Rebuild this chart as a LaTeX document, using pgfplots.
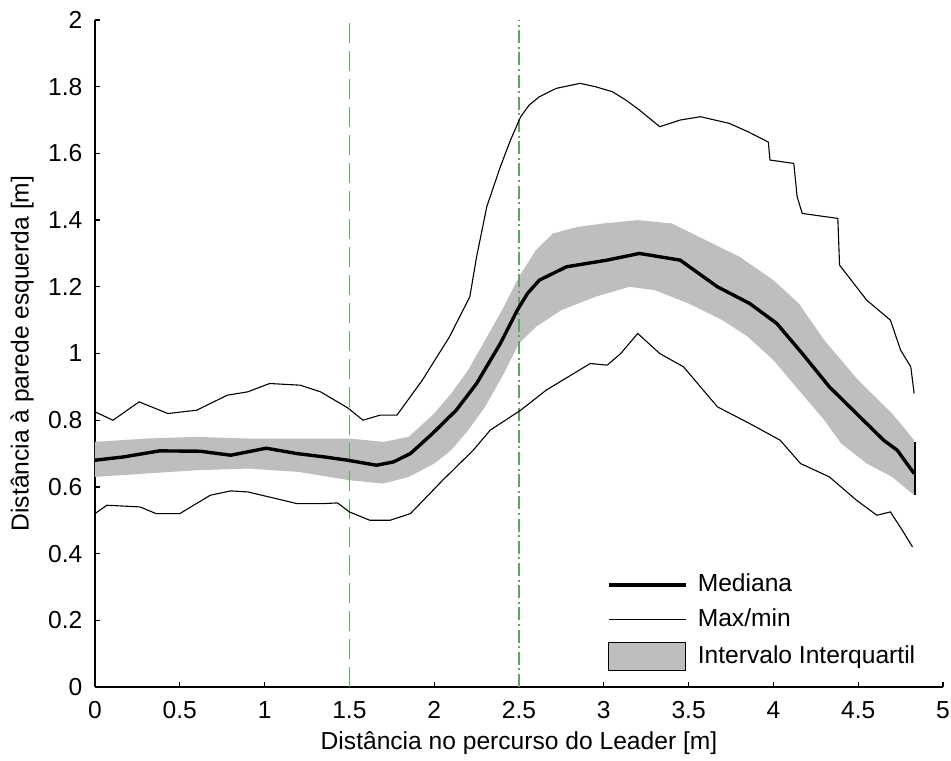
\documentclass[border=0pt]{standalone}
\usepackage{fontspec}
\setmainfont{Liberation Sans}
\usepackage{pgfplots}
\pgfplotsset{compat=1.18}
\definecolor{bandgray}{RGB}{190,190,190}
\definecolor{vgreen}{RGB}{95,165,95}
\begin{document}
\fontsize{12.3}{15}\selectfont
\begin{tikzpicture}
\useasboundingbox (-47.5pt,-36.5pt) rectangle (428pt,343.5pt);
\begin{axis}[
  at={(0,0)}, anchor=south west,
  scale only axis, width=424pt, height=333.5pt,
  xmin=0, xmax=5, ymin=0, ymax=2,
  axis x line=bottom, axis y line=left,
  axis line style={-, line width=0.6pt, black},
  xtick={0,0.5,...,5}, ytick={0,0.2,...,2.0},
  xticklabels={0,0.5,1,1.5,2,2.5,3,3.5,4,4.5,5},
  yticklabels={0,0.2,0.4,0.6,0.8,1,1.2,1.4,1.6,1.8,2},
  tick align=inside, major tick length=2.5pt,
  tick style={line width=0.6pt, black},
  ticklabel style={font=\fontsize{12.3}{15}\selectfont},
  yticklabel style={xshift=-2pt},
  xticklabel style={yshift=-3pt},
  xlabel={Distância no percurso do Leader [m]},
  ylabel={Distância à parede esquerda [m]},
  label style={font=\fontsize{12.3}{15}\selectfont},
  every axis x label/.style={at={(axis description cs:0.5,0)}, anchor=center, yshift=-28pt},
  every axis y label/.style={at={(axis description cs:0,0.5)}, rotate=90, anchor=center, yshift=36.5pt},
  clip=false,
  legend style={at={(0.596,0.179)}, anchor=north west, draw=none, fill=none,
    font=\fontsize{12.3}{15}\selectfont, row sep=4.7pt, column sep=4pt,
    nodes={inner sep=1pt}},
  legend cell align=left,
]
% interquartile band
\addplot[fill=bandgray, draw=none, forget plot] coordinates {
(0,0.735) (0.3,0.745) (0.6,0.75) (0.9,0.745) (1.2,0.745) (1.5,0.745) (1.7,0.735) (1.85,0.75)
(2.0,0.82) (2.1,0.88) (2.2,0.95) (2.3,1.04) (2.4,1.13) (2.5,1.23) (2.6,1.31) (2.7,1.36)
(2.85,1.38) (3.0,1.39) (3.2,1.40) (3.4,1.39) (3.6,1.34) (3.8,1.29) (4.0,1.22) (4.15,1.15)
(4.3,1.04) (4.5,0.92) (4.7,0.82) (4.83,0.74)
(4.83,0.575) (4.7,0.63) (4.55,0.67) (4.4,0.73) (4.3,0.80) (4.2,0.86) (4.1,0.92) (4.0,0.98)
(3.85,1.05) (3.7,1.10) (3.5,1.15) (3.3,1.19) (3.15,1.20) (2.95,1.17) (2.75,1.13) (2.6,1.08)
(2.5,1.03) (2.4,0.93) (2.3,0.84) (2.2,0.77) (2.1,0.71) (2.0,0.67) (1.85,0.63) (1.7,0.61)
(1.5,0.62) (1.2,0.645) (0.9,0.655) (0.6,0.65) (0.3,0.64) (0,0.63)
} -- cycle;
% vertical markers
\addplot[vgreen, line width=0.7pt, dash pattern=on 10pt off 4pt, forget plot] coordinates {(1.5,0) (1.5,2)};
\addplot[vgreen, line width=0.7pt, dash pattern=on 6.5pt off 1.8pt on 1pt off 1.8pt, forget plot] coordinates {(2.5,0) (2.5,2)};
% max
\addplot[black, line width=0.55pt, forget plot] coordinates {
(0,0.825) (0.106,0.80) (0.26,0.855) (0.43,0.82) (0.60,0.83) (0.78,0.875) (0.90,0.885)
(1.03,0.91) (1.21,0.905) (1.33,0.885) (1.49,0.837) (1.58,0.80) (1.68,0.815) (1.78,0.815)
(1.93,0.92) (2.09,1.05) (2.21,1.17) (2.25,1.29) (2.31,1.44) (2.39,1.56) (2.45,1.64) (2.51,1.71)
(2.56,1.745) (2.62,1.77) (2.72,1.795) (2.86,1.81) (2.95,1.80) (3.05,1.785) (3.13,1.76)
(3.21,1.73) (3.33,1.68) (3.45,1.70) (3.57,1.71) (3.74,1.69) (3.85,1.665) (3.97,1.634)
(3.98,1.58) (4.12,1.57) (4.14,1.47) (4.17,1.42) (4.38,1.405) (4.39,1.265) (4.55,1.16)
(4.69,1.10) (4.75,1.01) (4.81,0.96) (4.83,0.88)
};
% min
\addplot[black, line width=0.55pt, forget plot] coordinates {
(0,0.52) (0.07,0.545) (0.265,0.54) (0.36,0.52) (0.50,0.52) (0.68,0.575) (0.80,0.588)
(0.90,0.585) (1.05,0.567) (1.19,0.55) (1.35,0.55) (1.43,0.552) (1.50,0.525) (1.62,0.50)
(1.74,0.50) (1.86,0.52) (2.05,0.62) (2.23,0.71) (2.33,0.77) (2.51,0.83) (2.66,0.89)
(2.92,0.97) (3.02,0.965) (3.10,1.00) (3.20,1.06) (3.33,1.00) (3.47,0.96) (3.67,0.84)
(3.86,0.79) (4.04,0.74) (4.16,0.67) (4.33,0.63) (4.49,0.56) (4.61,0.515) (4.69,0.525)
(4.76,0.47) (4.82,0.42)
};
% band end edge
\addplot[black, line width=0.6pt, forget plot] coordinates {(4.835,0.575) (4.835,0.735)};
% median
\addplot[black, line width=1.7pt, forget plot] coordinates {
(0,0.68) (0.17,0.69) (0.38,0.708) (0.62,0.707) (0.80,0.695) (1.01,0.716) (1.19,0.70)
(1.35,0.69) (1.49,0.68) (1.66,0.665) (1.76,0.675) (1.86,0.70) (1.99,0.76) (2.07,0.80)
(2.13,0.83) (2.25,0.91) (2.39,1.03) (2.49,1.13) (2.55,1.18) (2.62,1.22) (2.78,1.26) (3.02,1.28)
(3.21,1.30) (3.45,1.28) (3.67,1.20) (3.86,1.15) (4.02,1.09) (4.17,1.00) (4.33,0.90)
(4.49,0.82) (4.65,0.74) (4.73,0.71) (4.83,0.64)
};
\addlegendimage{legend image code/.code={\draw[black, line width=2pt] (0pt,0pt) -- (38.5pt,0pt);}}
\addlegendentry{Mediana}
\addlegendimage{legend image code/.code={\draw[black, line width=0.55pt] (0pt,0pt) -- (38.5pt,0pt);}}
\addlegendentry{Max/min}
\addlegendimage{legend image code/.code={\draw[black, line width=0.6pt, fill=bandgray] (0pt,-7pt) rectangle (38.5pt,7pt);}}
\addlegendentry{Intervalo Interquartil}
\end{axis}
\end{tikzpicture}
\end{document}
